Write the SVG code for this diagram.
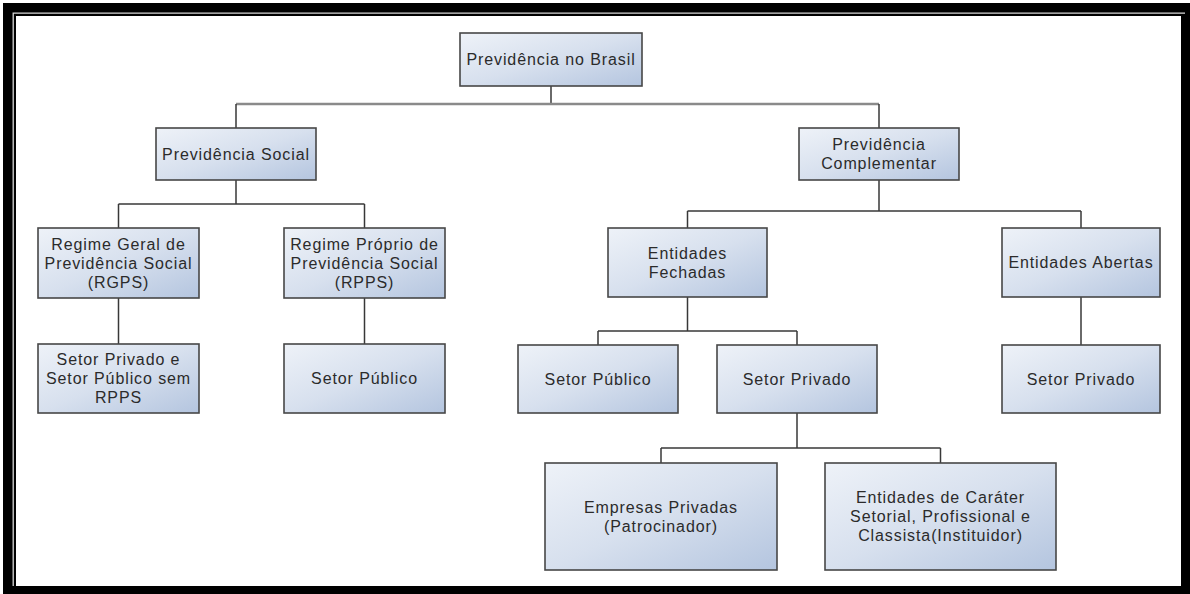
<svg xmlns="http://www.w3.org/2000/svg" width="1190" height="594" viewBox="0 0 1190 594">
<style>
.node rect.box{fill:url(#g);stroke:#474747;stroke-width:1.6}
.node rect.sh{fill:#d9d9d9;opacity:0.6}
.node text{font-family:"Liberation Sans",Arial,sans-serif;font-size:16px;letter-spacing:0.9px;fill:#2b2b2b;text-anchor:middle}
#connectors path{fill:none;stroke:#383838;stroke-width:1.5}
#connectors path.top{stroke:#8a8a8a;stroke-width:2.4}
</style>
<defs>
<linearGradient id="g" x1="0" y1="0" x2="1" y2="1">
<stop offset="0" stop-color="#eef2f8"/>
<stop offset="0.5" stop-color="#d7e0ee"/>
<stop offset="1" stop-color="#b4c5df"/>
</linearGradient>
</defs>
<rect x="0" y="0" width="1190" height="594" fill="#ffffff"/>
<g id="frame">
<path d="M3,3 H1190 V594 H3 Z M16,16 V586 H1181 V16 Z" fill="#000" fill-rule="evenodd"/>
<path d="M13.2,586 V13.2 H1185" fill="none" stroke="#d8d8d8" stroke-width="1.3"/>
</g>
<g id="connectors">
<path d="M551,86 V104"/>
<path class="top" d="M236,104 H879"/>
<path d="M236,104 V128 M879,104 V128"/>
<path d="M236,180 V204 M118.5,204 H364.5 M118.5,204 V228 M364.5,204 V228"/>
<path d="M118.5,298 V344 M364.5,298 V344"/>
<path d="M879,180 V211 M687.5,211 H1081 M687.5,211 V228 M1081,211 V228"/>
<path d="M687.5,297 V331 M598,331 H797 M598,331 V345 M797,331 V345"/>
<path d="M1081,297 V345"/>
<path d="M797,413 V448 M661,448 H940.5 M661,448 V463 M940.5,448 V463"/>
</g>
<g id="n-brasil" class="node"><rect class="box" x="460" y="33" width="182" height="53"/><text x="551" y="65">Previdência no Brasil</text></g>
<g id="n-social" class="node"><rect class="box" x="156" y="128" width="160" height="52"/><text x="236" y="159.5">Previdência Social</text></g>
<g id="n-complementar" class="node"><rect class="box" x="799" y="128" width="160" height="52"/><text x="879" y="150">Previdência</text><text x="879" y="169">Complementar</text></g>
<g id="n-rgps" class="node"><rect class="box" x="38" y="228" width="161" height="70"/><text x="118.5" y="249.5">Regime Geral de</text><text x="118.5" y="268.5">Previdência Social</text><text x="118.5" y="287.5">(RGPS)</text></g>
<g id="n-rpps" class="node"><rect class="box" x="284" y="228" width="161" height="70"/><text x="364.5" y="249.5">Regime Próprio de</text><text x="364.5" y="268.5">Previdência Social</text><text x="364.5" y="287.5">(RPPS)</text></g>
<g id="n-setor-priv-pub" class="node"><rect class="box" x="38" y="344" width="161" height="69"/><text x="118.5" y="365">Setor Privado e</text><text x="118.5" y="384">Setor Público sem</text><text x="118.5" y="403">RPPS</text></g>
<g id="n-setor-publico-1" class="node"><rect class="box" x="284" y="344" width="161" height="69"/><text x="364.5" y="384">Setor Público</text></g>
<g id="n-fechadas" class="node"><rect class="box" x="608" y="228" width="159" height="69"/><text x="687.5" y="258.5">Entidades</text><text x="687.5" y="277.5">Fechadas</text></g>
<g id="n-abertas" class="node"><rect class="box" x="1002" y="228" width="158" height="69"/><text x="1081" y="268">Entidades Abertas</text></g>
<g id="n-setor-publico-2" class="node"><rect class="box" x="518" y="345" width="160" height="68"/><text x="598" y="384.5">Setor Público</text></g>
<g id="n-setor-privado-2" class="node"><rect class="box" x="717" y="345" width="160" height="68"/><text x="797" y="384.5">Setor Privado</text></g>
<g id="n-setor-privado-3" class="node"><rect class="box" x="1002" y="345" width="158" height="68"/><text x="1081" y="384.5">Setor Privado</text></g>
<g id="n-empresas" class="node"><rect class="box" x="545" y="463" width="232" height="107"/><text x="661" y="512.5">Empresas Privadas</text><text x="661" y="531.5">(Patrocinador)</text></g>
<g id="n-entidades-carater" class="node"><rect class="box" x="825" y="463" width="231" height="107"/><text x="940.5" y="503">Entidades de Caráter</text><text x="940.5" y="522">Setorial, Profissional e</text><text x="940.5" y="541">Classista(Instituidor)</text></g>
</svg>
